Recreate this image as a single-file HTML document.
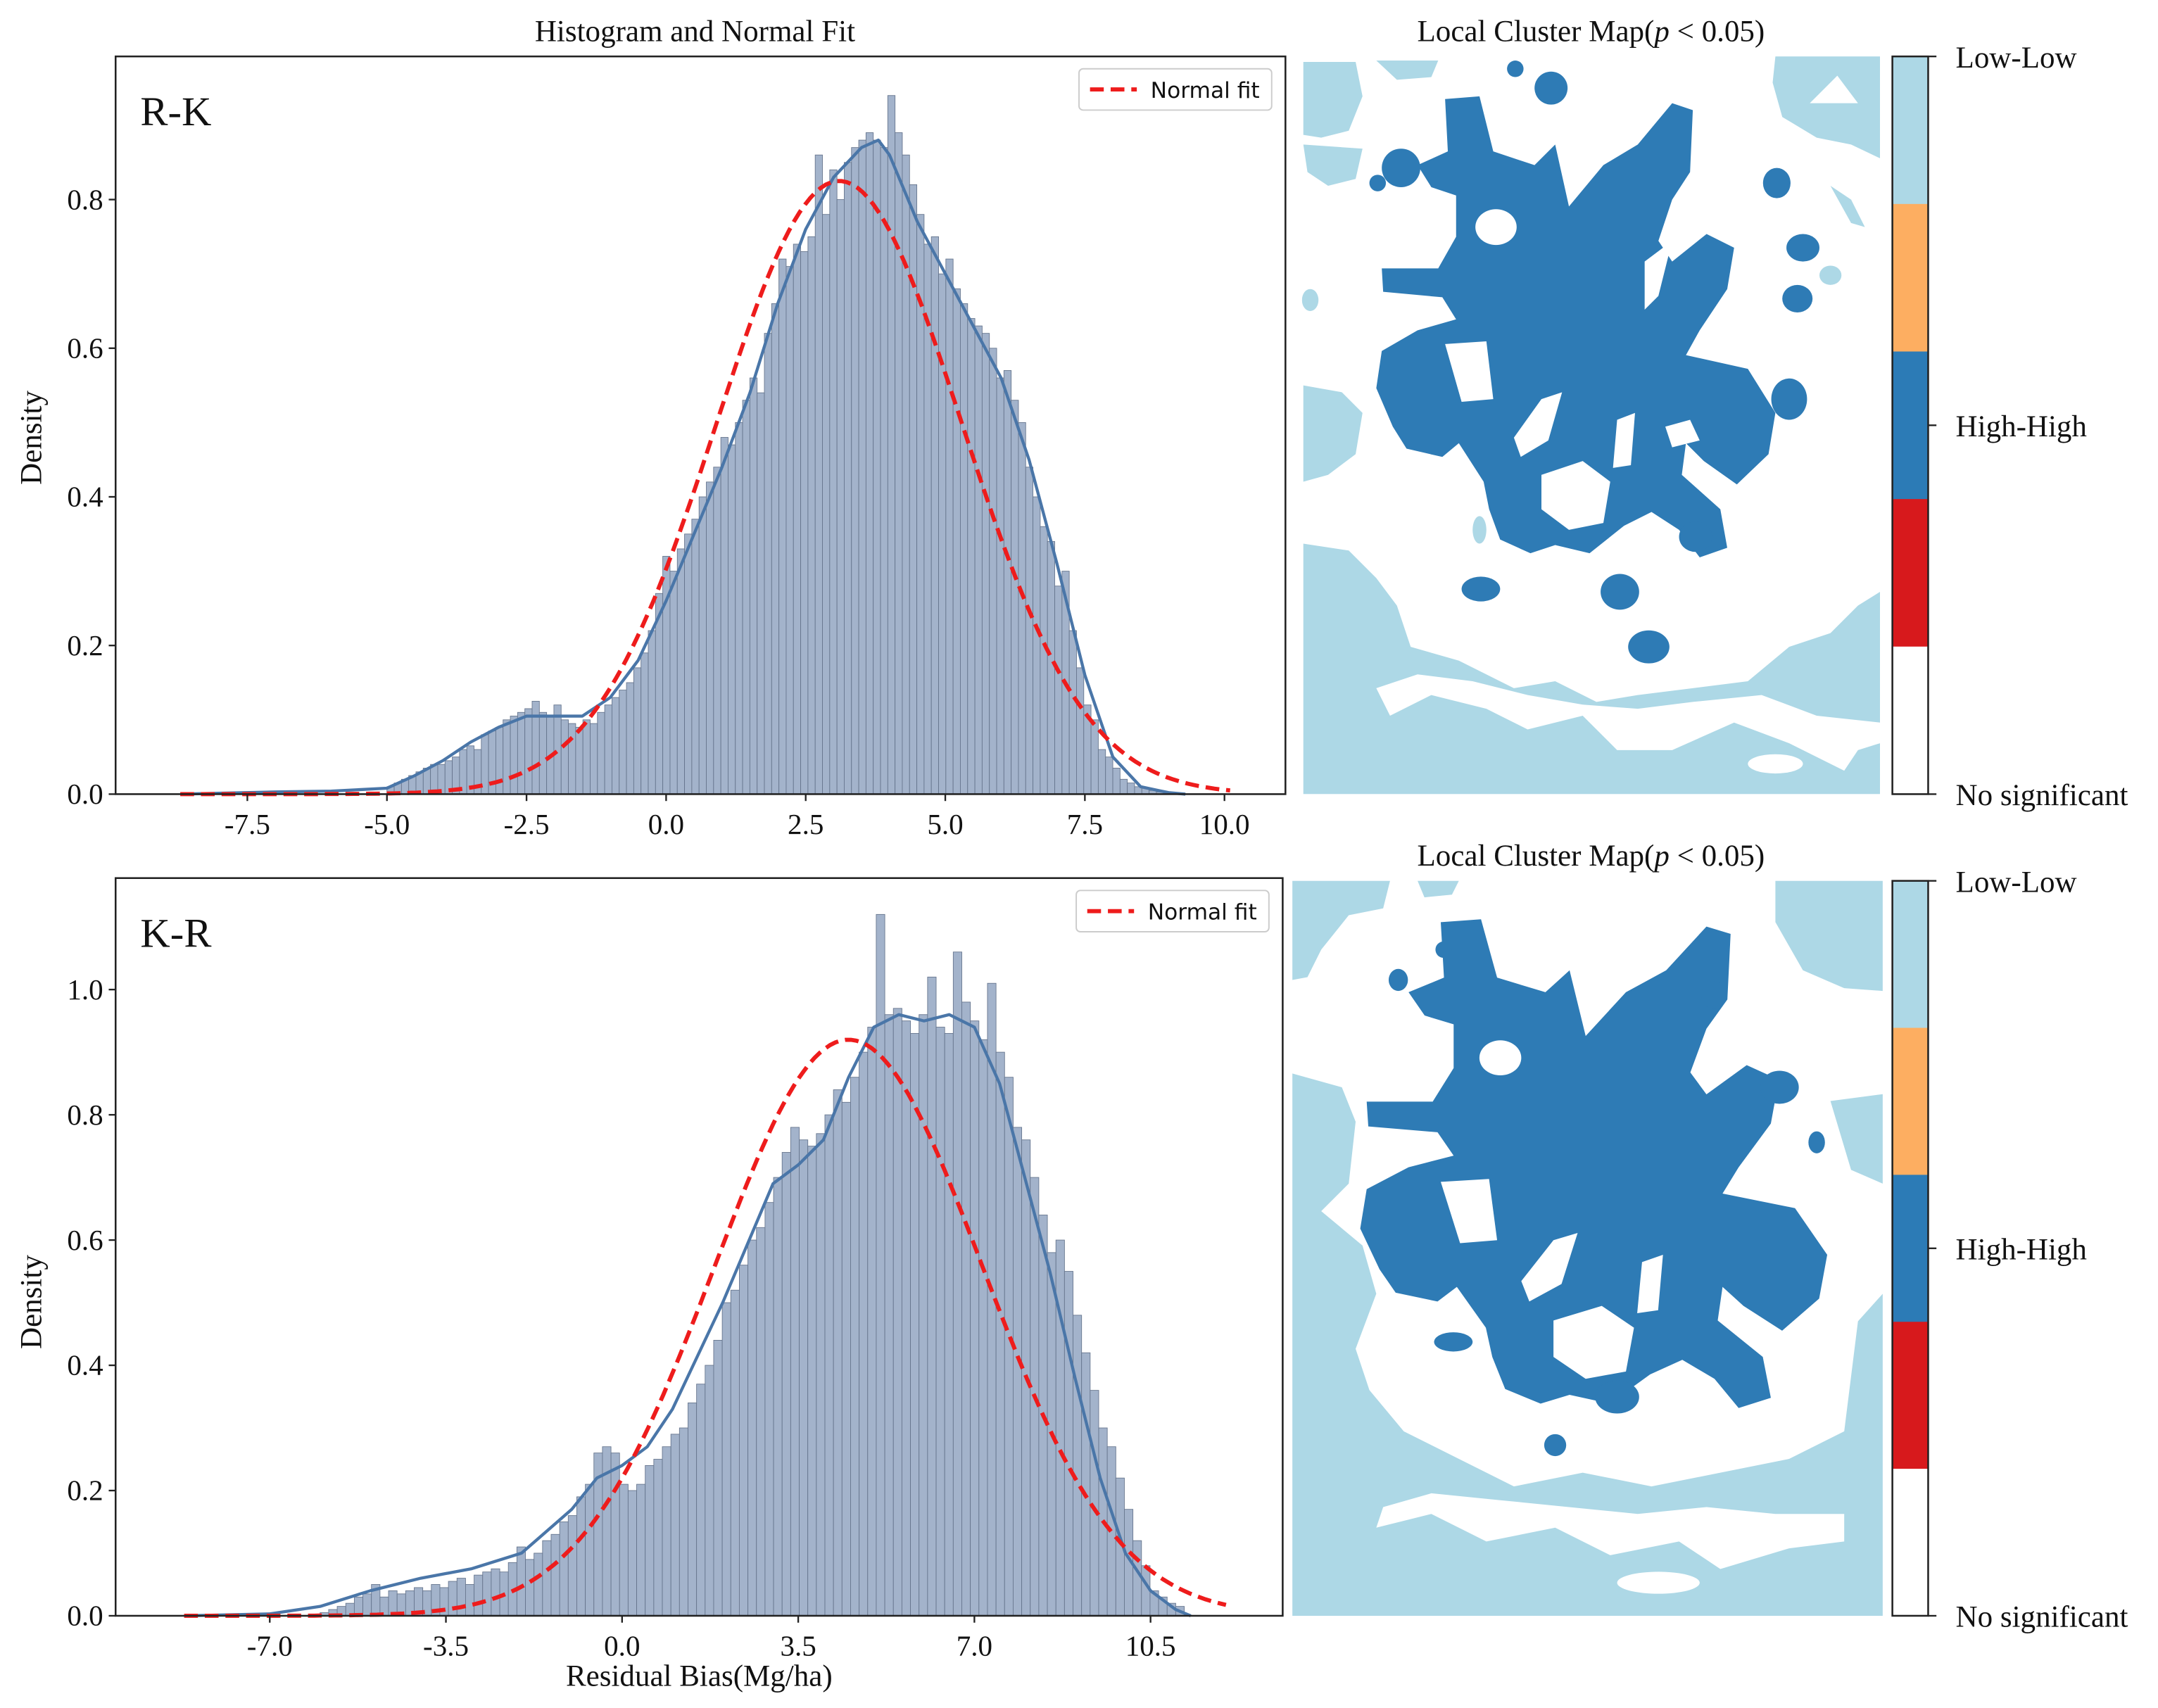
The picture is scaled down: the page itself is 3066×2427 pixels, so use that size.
<!DOCTYPE html>
<html><head><meta charset="utf-8"><style>
html,body{margin:0;padding:0;background:#fff}
svg{display:block}
text{font-family:"Liberation Serif",serif;fill:#111}
</style></head><body>
<svg id="fig" width="3066" height="2427" viewBox="0 0 1568 1241" preserveAspectRatio="none" xmlns="http://www.w3.org/2000/svg">
<rect width="1568" height="1241" fill="#fff"/>
<g id="hist1"></g>
<g id="hist2"></g>

<text x="505" y="30" font-size="22" text-anchor="middle">Histogram and Normal Fit</text>
<text x="1156" y="30" font-size="22" text-anchor="middle">Local Cluster Map(<tspan font-style="italic">p</tspan> &lt; 0.05)</text>
<text x="1156" y="629" font-size="22" text-anchor="middle">Local Cluster Map(<tspan font-style="italic">p</tspan> &lt; 0.05)</text>
<text x="508" y="1225" font-size="22" text-anchor="middle">Residual Bias(Mg/ha)</text>
<text transform="translate(30,318) rotate(-90)" font-size="22" text-anchor="middle">Density</text>
<text transform="translate(30,946) rotate(-90)" font-size="22" text-anchor="middle">Density</text>

<!-- top cluster map -->
<g>
<svg x="946" y="41" width="420" height="536" viewBox="946 41 420 536" overflow="hidden">
<rect x="946" y="41" width="420" height="536" fill="#fff"/>
<g fill="#add8e6">
<path d="M947,45 L985,45 L990,70 L980,95 L960,100 L947,98Z"/>
<path d="M947,105 L990,108 L985,130 L965,135 L950,125Z"/>
<path d="M1000,44 L1045,44 L1040,56 L1015,58Z"/>
<path d="M1290,41 L1366,41 L1366,115 L1345,105 L1320,100 L1295,85 L1288,60Z M1315,75 L1335,55 L1350,75Z" fill-rule="evenodd"/>
<path d="M947,280 L975,285 L990,300 L985,330 L965,345 L947,350Z"/>
<path d="M947,395 L980,400 L1000,420 L1015,440 L1025,470 L1060,480 L1100,500 L1130,495 L1160,510 L1190,505 L1230,500 L1270,495 L1300,470 L1330,460 L1350,440 L1366,430 L1366,577 L947,577Z"/>
<ellipse cx="952" cy="218" rx="6" ry="8"/>
<ellipse cx="1330" cy="200" rx="8" ry="7"/>
<ellipse cx="1075" cy="385" rx="5" ry="10"/>
<path d="M1330,135 L1345,145 L1355,165 L1345,162Z"/>
</g>
<g fill="#fff">
<path d="M1010,520 L1040,505 L1080,515 L1110,530 L1150,520 L1175,545 L1215,545 L1260,525 L1300,540 L1340,560 L1350,545 L1366,540 L1366,525 L1320,520 L1280,505 L1230,510 L1190,515 L1150,512 L1110,505 L1070,495 L1030,490 L1000,500Z"/>
<ellipse cx="1290" cy="555" rx="20" ry="7"/>
</g>
<g fill="#2e7bb5">
<path d="M1050,72 L1075,70 L1085,110 L1115,120 L1130,105 L1140,150 L1165,120 L1190,105 L1215,75 L1230,80 L1228,125 L1215,145 L1205,175 L1215,190 L1240,170 L1260,180 L1255,210 L1235,240 L1225,258 L1270,268 L1290,300 L1285,330 L1262,352 L1238,335 L1225,322 L1222,345 L1250,370 L1255,398 L1235,405 L1220,385 L1200,372 L1180,382 L1155,402 L1130,396 L1112,402 L1090,392 L1082,370 L1078,350 L1060,322 L1048,332 L1022,326 L1012,310 L1000,282 L1004,255 L1030,240 L1058,232 L1048,216 L1005,212 L1004,195 L1045,195 L1058,172 L1058,142 L1040,136 L1030,120 L1052,110Z"/>
<ellipse cx="1018" cy="122" rx="14" ry="14"/>
<ellipse cx="1001" cy="133" rx="6" ry="6"/>
<ellipse cx="1101" cy="50" rx="6" ry="6"/>
<ellipse cx="1127" cy="64" rx="12" ry="12"/>
<ellipse cx="1291" cy="133" rx="10" ry="11"/>
<ellipse cx="1310" cy="180" rx="12" ry="10"/>
<ellipse cx="1306" cy="217" rx="11" ry="10"/>
<ellipse cx="1300" cy="290" rx="13" ry="15"/>
<ellipse cx="1232" cy="390" rx="12" ry="11"/>
<ellipse cx="1076" cy="428" rx="14" ry="9"/>
<ellipse cx="1177" cy="430" rx="14" ry="13"/>
<ellipse cx="1198" cy="470" rx="15" ry="12"/>
</g>
<g fill="#fff">
<ellipse cx="1087" cy="165" rx="15" ry="13"/>
<path d="M1050,250 L1080,248 L1085,290 L1062,292Z"/>
<path d="M1120,290 L1135,285 L1125,320 L1105,332 L1100,318Z"/>
<path d="M1175,305 L1188,300 L1185,338 L1172,340Z"/>
<path d="M1210,310 L1228,305 L1235,320 L1215,325Z"/>
<path d="M1195,190 L1215,175 L1205,215 L1195,225Z"/>
<path d="M1120,345 L1150,335 L1170,350 L1165,380 L1140,385 L1120,370Z"/>
</g>
</svg>
</g>

<!-- bottom cluster map -->
<g>
<svg x="939" y="640" width="429" height="534" viewBox="939 640 429 534" overflow="hidden">
<rect x="939" y="640" width="429" height="534" fill="#fff"/>
<g fill="#add8e6">
<path d="M939,640 L1010,640 L1005,660 L980,665 L960,690 L950,710 L939,712Z"/>
<path d="M1030,640 L1060,640 L1055,650 L1035,652Z"/>
<path d="M1290,640 L1368,640 L1368,720 L1340,718 L1310,705 L1290,670Z"/>
<path d="M939,780 L975,790 L985,815 L980,860 L960,880 L990,905 L1000,940 L985,980 L995,1010 L1020,1040 L1060,1060 L1100,1080 L1150,1070 L1200,1080 L1250,1070 L1300,1060 L1340,1040 L1345,1000 L1350,960 L1368,940 L1368,1174 L939,1174Z"/>
<path d="M1330,800 L1368,795 L1368,860 L1345,850Z"/>
</g>
<g fill="#fff">
<path d="M1000,1110 L1040,1100 L1080,1120 L1130,1110 L1170,1130 L1220,1120 L1250,1140 L1300,1125 L1340,1120 L1340,1100 L1290,1100 L1240,1095 L1190,1100 L1140,1095 L1090,1090 L1040,1085 L1005,1095Z"/>
<ellipse cx="1205" cy="1150" rx="30" ry="8"/>
</g>
<g transform="translate(1158,846) scale(1.17,1.06) translate(-1145,-238)">
<g fill="#2e7bb5">
<path d="M1050,72 L1075,70 L1085,110 L1115,120 L1130,105 L1140,150 L1165,120 L1190,105 L1215,75 L1230,80 L1228,125 L1215,145 L1205,175 L1215,190 L1240,170 L1260,180 L1255,210 L1235,240 L1225,258 L1270,268 L1290,300 L1285,330 L1262,352 L1238,335 L1225,322 L1222,345 L1250,370 L1255,398 L1235,405 L1220,385 L1200,372 L1180,382 L1155,402 L1130,396 L1112,402 L1090,392 L1082,370 L1078,350 L1060,322 L1048,332 L1022,326 L1012,310 L1000,282 L1004,255 L1030,240 L1058,232 L1048,216 L1005,212 L1004,195 L1045,195 L1058,172 L1058,142 L1040,136 L1030,120 L1052,110Z"/>
</g>
<g fill="#fff">
<ellipse cx="1087" cy="165" rx="13" ry="12"/>
<path d="M1050,250 L1080,248 L1085,290 L1062,292Z"/>
<path d="M1120,290 L1135,285 L1125,320 L1105,332 L1100,318Z"/>
<path d="M1175,305 L1188,300 L1185,338 L1172,340Z"/>
<path d="M1120,345 L1150,335 L1170,350 L1165,380 L1140,385 L1120,370Z"/>
</g>
</g>
<g fill="#2e7bb5">
<ellipse cx="1049" cy="690" rx="6" ry="6"/>
<ellipse cx="1016" cy="712" rx="7" ry="8"/>
<ellipse cx="1245" cy="723" rx="9" ry="10"/>
<ellipse cx="1293" cy="790" rx="14" ry="12"/>
<ellipse cx="1320" cy="830" rx="6" ry="8"/>
<ellipse cx="1056" cy="975" rx="14" ry="7"/>
<ellipse cx="1130" cy="1050" rx="8" ry="8"/>
<ellipse cx="1175" cy="1015" rx="16" ry="12"/>
</g>
</svg>
</g>

<!-- colorbars -->
<g id="cbars"></g>
</svg>
<script>
// ---------- data ----------
const rkBinStart = -5.0, rkBinWidth = 0.13;
const rkBars = [0.01,0.015,0.02,0.025,0.03,0.035,0.04,0.04,0.045,0.05,
0.06,0.065,0.06,0.08,0.085,0.09,0.10,0.105,0.11,0.115,
0.125,0.11,0.105,0.12,0.10,0.095,0.09,0.10,0.095,0.11,
0.12,0.13,0.14,0.15,0.17,0.19,0.22,0.27,0.32,0.30,
0.33,0.35,0.37,0.40,0.42,0.44,0.48,0.47,0.50,0.53,
0.56,0.54,0.62,0.66,0.72,0.71,0.74,0.73,0.75,0.86,
0.78,0.84,0.80,0.85,0.87,0.88,0.89,0.88,0.87,0.94,
0.89,0.86,0.82,0.78,0.74,0.75,0.70,0.72,0.68,0.66,
0.64,0.63,0.62,0.60,0.56,0.57,0.53,0.50,0.44,0.40,
0.36,0.34,0.28,0.30,0.22,0.17,0.12,0.10,0.06,0.05,
0.035,0.02,0.015,0.01,0.008,0.005,0.003,0.002];
const rkKdeX = [-8.7,-7,-6,-5,-4.5,-4,-3.5,-3,-2.5,-2,-1.5,-1,-0.5,0,0.5,1,1.5,2,2.5,3,3.5,3.8,4,4.5,5,5.5,6,6.5,7,7.5,8,8.5,9,9.3];
const rkKdeY = [0,0.003,0.004,0.008,0.025,0.045,0.07,0.09,0.105,0.105,0.105,0.13,0.18,0.26,0.35,0.44,0.54,0.66,0.76,0.83,0.87,0.88,0.86,0.77,0.70,0.63,0.56,0.45,0.31,0.16,0.05,0.01,0.002,0];
const rkFit = {mu:3.1, sigma:2.19, peak:0.825, from:-8.7, to:10.1};
const rkXTicks = [-7.5,-5.0,-2.5,0.0,2.5,5.0,7.5,10.0];
const rkYTicks = [0.0,0.2,0.4,0.6,0.8];

const krBinStart = -6.0, krBinWidth = 0.17;
const krBars = [0.005,0.01,0.015,0.02,0.03,0.035,0.05,0.03,0.04,0.035,
0.04,0.045,0.04,0.05,0.045,0.055,0.06,0.05,0.065,0.07,
0.075,0.07,0.085,0.11,0.09,0.10,0.12,0.13,0.15,0.16,
0.19,0.21,0.26,0.27,0.26,0.21,0.20,0.21,0.24,0.25,
0.27,0.29,0.30,0.34,0.37,0.40,0.44,0.50,0.52,0.56,
0.60,0.62,0.66,0.70,0.74,0.78,0.76,0.75,0.77,0.80,
0.84,0.82,0.86,0.90,0.94,1.12,0.96,0.97,0.95,0.93,
0.96,1.02,0.94,0.93,1.06,0.98,0.95,0.92,1.01,0.90,
0.86,0.78,0.76,0.70,0.64,0.58,0.60,0.55,0.48,0.42,
0.36,0.30,0.27,0.22,0.17,0.12,0.08,0.04,0.03,0.02,0.015];
const krKdeX = [-8.7,-7,-6,-5,-4,-3,-2,-1,-0.5,0,0.5,1,2,3,3.5,4,4.5,5,5.5,6,6.5,7,7.5,8,8.5,9,9.5,10,10.5,11,11.3];
const krKdeY = [0,0.003,0.015,0.04,0.06,0.075,0.10,0.17,0.22,0.24,0.27,0.33,0.50,0.69,0.72,0.76,0.86,0.94,0.96,0.95,0.96,0.94,0.85,0.70,0.55,0.38,0.22,0.10,0.04,0.01,0];
const krFit = {mu:4.5, sigma:2.66, peak:0.92, from:-8.7, to:12.0};
const krXTicks = [-7.0,-3.5,0.0,3.5,7.0,10.5];
const krYTicks = [0.0,0.2,0.4,0.6,0.8,1.0];

const cbColors = ['#add8e6','#fdae61','#2c7bb6','#d7191c','#ffffff'];
const cbLabels = ['Low-Low','High-High','No significant'];

// ---------- drawing ----------
const NS='http://www.w3.org/2000/svg';
function mk(tag, attrs, parent){const e=document.createElementNS(NS,tag);for(const k in attrs)e.setAttribute(k,attrs[k]);parent.appendChild(e);return e;}

function drawHist(g, cfg){
  const {L,R,T,B,x0,xs,ys} = cfg;
  const X = v => x0 + v*xs;
  const Y = v => B - v*ys;
  cfg.bars.forEach((v,i)=>{
    const a = cfg.binStart + i*cfg.binWidth;
    const r = mk('rect',{x:X(a),y:Y(v),width:cfg.binWidth*xs,height:v*ys,fill:'#a3b3cb',stroke:'#66758d','stroke-width':0.45},g);
    
    
  });
  let d='';
  cfg.kdeX.forEach((v,i)=>{d+=(i?'L':'M')+X(v).toFixed(1)+','+Y(cfg.kdeY[i]).toFixed(1);});
  const k = mk('path',{d:d,fill:'none',stroke:'#4a76a8','stroke-width':2.2,'stroke-linejoin':'round'},g);
  
  
  const f = cfg.fit; let nd='';
  for(let i=0;i<=200;i++){const xv=f.from+(f.to-f.from)*i/200;const yv=f.peak*Math.exp(-((xv-f.mu)**2)/(2*f.sigma*f.sigma));nd+=(i?'L':'M')+X(xv).toFixed(1)+','+Y(yv).toFixed(1);}
  const n = mk('path',{d:nd,fill:'none',stroke:'#ee1c1c','stroke-width':3,'stroke-dasharray':'10,5'},g);
  
  
  const fr = mk('rect',{x:L,y:T,width:R-L,height:B-T,fill:'none',stroke:'#222','stroke-width':1.3},g);
  
  
  cfg.xt.forEach(t=>{
    mk('line',{x1:X(t),x2:X(t),y1:B,y2:B+5,stroke:'#222','stroke-width':1.2},g);
    const tx = mk('text',{x:X(t),y:B+29,'font-size':21,'text-anchor':'middle'},g);
    tx.textContent = t.toFixed(1);
    
    
  });
  cfg.yt.forEach(t=>{
    mk('line',{x1:L-5,x2:L,y1:Y(t),y2:Y(t),stroke:'#222','stroke-width':1.2},g);
    const tx = mk('text',{x:L-9,y:Y(t)+7,'font-size':21,'text-anchor':'end'},g);
    tx.textContent = t.toFixed(1);
    
    
  });
  const lab = mk('text',{x:L+18,y:T+50,'font-size':30},g);
  lab.textContent = cfg.label;
  
  
  const lg = mk('g',{},g);
  
  
  mk('rect',{x:R-150,y:T+9,width:140,height:30,rx:3,fill:'#fff',stroke:'#ccc','stroke-width':1},lg);
  mk('line',{x1:R-142,x2:R-108,y1:T+24,y2:T+24,stroke:'#ee1c1c','stroke-width':3,'stroke-dasharray':'10,5'},lg);
  const lt = mk('text',{x:R-98,y:T+30,'font-size':16,style:'font-family:"DejaVu Sans","Liberation Sans",sans-serif'},lg);
  lt.textContent='Normal fit';
}

drawHist(document.getElementById('hist1'),{L:84,R:934,T:41,B:577,x0:484,xs:40.57,ys:540,
  bars:rkBars,binStart:rkBinStart,binWidth:rkBinWidth,kdeX:rkKdeX,kdeY:rkKdeY,fit:rkFit,xt:rkXTicks,yt:rkYTicks,label:'R-K'});
drawHist(document.getElementById('hist2'),{L:84,R:932,T:638,B:1174,x0:452,xs:36.57,ys:455,
  bars:krBars,binStart:krBinStart,binWidth:krBinWidth,kdeX:krKdeX,kdeY:krKdeY,fit:krFit,xt:krXTicks,yt:krYTicks,label:'K-R'});

function drawCbar(y0,h,name){
  const g = mk('g',{},document.getElementById('cbars'));
  
  
  const x=1375,w=26,seg=h/cbColors.length;
  cbColors.forEach((c,i)=>{mk('rect',{x:x,y:y0+i*seg,width:w,height:seg+0.5,fill:c},g);});
  mk('rect',{x:x,y:y0,width:w,height:h,fill:'none',stroke:'#222','stroke-width':1.3},g);
  const ty=[y0,y0+h/2,y0+h];
  cbLabels.forEach((l,i)=>{
    mk('line',{x1:x+w,x2:x+w+6,y1:ty[i],y2:ty[i],stroke:'#222','stroke-width':1.2},g);
    const t=mk('text',{x:x+w+20,y:ty[i]+8,'font-size':22},g);
    t.textContent=l;
    
    
  });
}
drawCbar(41,536,'colorbar-top');
drawCbar(640,534,'colorbar-bottom');
</script>
</body></html>
